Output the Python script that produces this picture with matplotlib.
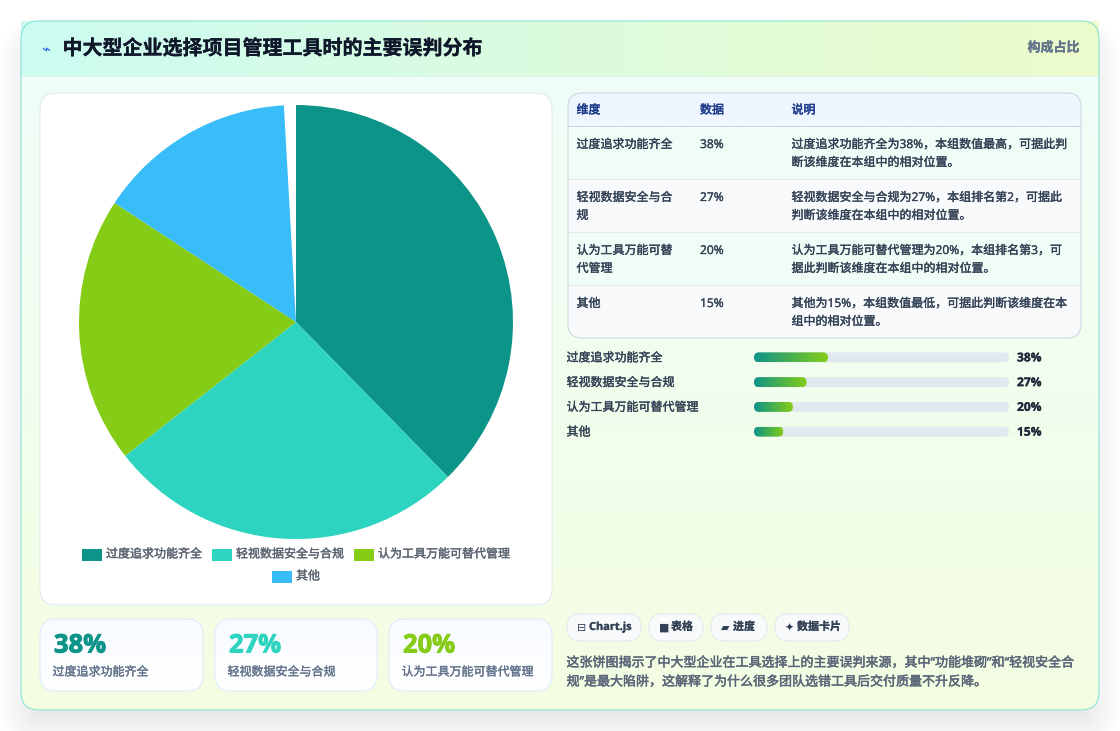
import numpy as np
import matplotlib
matplotlib.use("Agg")
import matplotlib.pyplot as plt
import matplotlib.patheffects as pe
from matplotlib.patches import FancyBboxPatch, Rectangle
from matplotlib.colors import to_rgb

plt.rcParams['font.family'] = ['Open Sans', 'Noto Sans CJK SC', 'DejaVu Sans']

# ---------- data ----------
categories = ['过度追求功能齐全', '轻视数据安全与合规', '认为工具万能可替代管理', '其他']
values = [38, 27, 20, 15]
pie_total = 100.9
bar_scale_max = 131
colors = ['#0d9488', '#2dd4bf', '#84cc16', '#38bdf8']
title = '中大型企业选择项目管理工具时的主要误判分布'
badge = '构成占比'
table_head = ['维度', '数据', '说明']
table_dims = [['过度追求功能齐全'], ['轻视数据安全与合', '规'], ['认为工具万能可替', '代管理'], ['其他']]
table_notes = [
    ['过度追求功能齐全为38%，本组数值最高，可据此判', '断该维度在本组中的相对位置。'],
    ['轻视数据安全与合规为27%，本组排名第2，可据此', '判断该维度在本组中的相对位置。'],
    ['认为工具万能可替代管理为20%，本组排名第3，可', '据此判断该维度在本组中的相对位置。'],
    ['其他为15%，本组数值最低，可据此判断该维度在本', '组中的相对位置。'],
]
chips = [('⊟', 'Chart.js'), ('■', '表格'), ('▰', '进度'), ('✦', '数据卡片')]
summary = ['这张饼图揭示了中大型企业在工具选择上的主要误判来源，其中“功能堆砌”和“轻视安全合',
           '规”是最大陷阱，这解释了为什么很多团队选错工具后交付质量不升反降。']

W, H = 1120, 731
fig = plt.figure(figsize=(W / 100, H / 100), dpi=100, facecolor='white')
ax = fig.add_axes([0, 0, 1, 1])
ax.set_axis_off()


def reset():
    ax.set_xlim(0, W)
    ax.set_ylim(H, 0)
    ax.set_aspect('auto')


reset()


def px(s):
    return s * 0.72


def rbox(x0, y0, x1, y1, r, fc='none', ec='none', lw=0.72, z=2):
    p = FancyBboxPatch((x0 + r, y0 + r), x1 - x0 - 2 * r, y1 - y0 - 2 * r,
                       boxstyle=f'round,pad={r},rounding_size={r}',
                       fc=fc, ec=ec, lw=lw, zorder=z)
    ax.add_patch(p)
    return p


def grad(x0, y0, x1, y1, c0, c1, direction='v', clip=None, z=1.5):
    c0, c1 = np.array(to_rgb(c0)), np.array(to_rgb(c1))
    t = np.linspace(0, 1, 256)
    t = t[:, None] if direction == 'v' else t[None, :]
    img = c0 * (1 - t[..., None]) + c1 * t[..., None]
    im = ax.imshow(img, extent=(x0, x1, y1, y0), origin='upper', aspect='auto',
                   zorder=z, interpolation='bilinear')
    if clip is not None:
        im.set_clip_path(clip)
    reset()
    return im


def txt(x, y, s, size, color, weight='normal', ha='left', va='center', z=6, stroke=0.0, **kw):
    t = ax.text(x, y, s, fontsize=px(size), color=color, fontweight=weight,
                ha=ha, va=va, zorder=z, **kw)
    if stroke:
        t.set_path_effects([pe.withStroke(linewidth=stroke, foreground=color)])
    return t


MED = 0.25

# ---------- shadow ----------
yy, xx = np.mgrid[0:H, 0:W] + 0.5
cx, cy, hw, hh, rr = 560, 384, 539, 344, 18
qx = np.abs(xx - cx) - (hw - rr)
qy = np.abs(yy - cy) - (hh - rr)
d = np.hypot(np.maximum(qx, 0), np.maximum(qy, 0)) + np.minimum(np.maximum(qx, qy), 0) - rr
u = np.clip(0.5 - d / 64, 0, 1)
a = 0.11 * u * u * (3 - 2 * u)
shadow = np.zeros((H, W, 4))
shadow[..., :3] = to_rgb('#0f172a')
shadow[..., 3] = a
ax.imshow(shadow, extent=(0, W, H, 0), aspect='auto', zorder=0.5)
reset()

# ---------- main card ----------
card = rbox(21, 21, 1099, 710, 18, fc='#f0fdfa', z=1)
grad(21, 21, 1099, 710, '#effdfa', '#f4fee2', 'v', clip=card, z=1.2)
grad(21, 21, 1099, 76, '#ccfbf1', '#ecfccb', 'h', z=1.6)
ax.plot([21, 1099], [76, 76], color='#e2f2ee', lw=0.72, zorder=1.7)
rbox(21, 21, 1099, 710, 18, ec='#7fe3cf', lw=0.72, z=1.8)

txt(41, 50, '⌁', 15, '#2563eb', family=['DejaVu Sans'])
txt(62.5, 49.5, title, 20, '#0f172a', 'bold', stroke=0.2)
txt(1079.5, 48, badge, 13, '#64748b', 'bold', ha='right', stroke=0.2)

# ---------- pie panel ----------
rbox(40, 93, 552, 605, 16, fc='white', ec='#e2e8f0', z=2)
cxp, cyp, rp = 296, 322, 217
ax_pie = fig.add_axes([(cxp - rp) / W, 1 - (cyp + rp) / H, 2 * rp / W, 2 * rp / H], zorder=5)
ax_pie.pie([v / pie_total for v in values], colors=colors, startangle=90, counterclock=False,
           radius=1, normalize=False, wedgeprops=dict(edgecolor='none', linewidth=0))
ax_pie.set_xlim(-1, 1)
ax_pie.set_ylim(-1, 1)
ax_pie.set_aspect('equal')

leg_rows = [[(82, 0), (212, 1), (354, 2)], [(272, 3)]]
for row, y in zip(leg_rows, (555, 577)):
    for x, i in row:
        ax.add_patch(Rectangle((x, y - 6), 19.5, 12, fc=colors[i], ec='none', zorder=3))
        txt(x + 24, y - 1, categories[i], 12, '#5b6470', stroke=MED)

# ---------- stat cards ----------
stat_x = [(40, 203), (215, 377), (389, 552)]
for (x0, x1), v, c, name in zip(stat_x, values[:3], colors[:3], categories[:3]):
    s = rbox(x0, 619, x1, 691, 16, fc='white', z=2)
    grad(x0, 619, x1, 691, '#f8fbff', '#ffffff', 'v', clip=s, z=2.1)
    rbox(x0, 619, x1, 691, 16, ec='#dbeafe', z=2.2)
    txt(x0 + 14, 645, f'{v}%', 25.5, c, 'bold', stroke=0.7)
    txt(x0 + 12.5, 672, name, 12, '#64748b', stroke=MED)

# ---------- table ----------
tb = rbox(568, 93, 1081, 338, 14, fc='#f8fafc', z=2)
grad(568, 93, 1081, 126, '#eff6ff', '#eff6ff', 'v', clip=tb, z=2.1)
row_y = [126, 179, 232, 285, 338]
row_bg = ['#f0fdf7', '#f8fafc', '#f0fdf7', '#f8fafc']
for y0, y1, c in zip(row_y[:-1], row_y[1:], row_bg):
    r = Rectangle((568, y0), 513, y1 - y0, fc=c, ec='none', zorder=2.1)
    ax.add_patch(r)
    r.set_clip_path(tb)
for i, y in enumerate(row_y[:-1]):
    ax.plot([568, 1081], [y - 0.5, y - 0.5], color='#cbd5e1' if i == 0 else '#e2e8f0', lw=0.72, zorder=2.3)
rbox(568, 93, 1081, 338, 14, ec='#cbd5e1', z=2.4)
col_x = [576.5, 700, 791.5]
for x, h in zip(col_x, table_head):
    txt(x, 110, h, 12, '#1e3a8a', stroke=MED + 0.1)
for i in range(4):
    y = row_y[i] + 18.5
    for j, line in enumerate(table_dims[i]):
        txt(col_x[0], y + j * 18, line, 12, '#334155', stroke=MED)
    txt(col_x[1], y, f'{values[i]}%', 12, '#334155', stroke=MED)
    for j, line in enumerate(table_notes[i]):
        txt(col_x[2], y + j * 18, line, 12, '#334155', stroke=MED)

# ---------- progress bars ----------
bx0, bx1, by0, by1 = 754, 1009, 345, 444
n = len(values)
ax_bar = fig.add_axes([bx0 / W, 1 - by1 / H, (bx1 - bx0) / W, (by1 - by0) / H], zorder=4)
ax_bar.set_xlim(0, bar_scale_max)
ax_bar.set_ylim(n - 0.5, -0.5)
ax_bar.set_axis_off()
ax_bar.patch.set_alpha(0)
px_x = (bx1 - bx0) / bar_scale_max
px_y = (by1 - by0) / n
bar_h = 10 / px_y


def bar_box(v, i, **kw):
    rx = 5 / px_x
    p = FancyBboxPatch((rx, i - bar_h / 2 + 5 / px_y), max(v - 2 * rx, 0.01), bar_h - 10 / px_y,
                       boxstyle=f'round,pad={rx},rounding_size={rx}',
                       mutation_aspect=(5 / px_y) / rx, **kw)
    ax_bar.add_patch(p)
    return p


c0 = np.array(to_rgb('#0d9488'))
c1 = np.array(to_rgb('#84cc16'))
tg = np.linspace(0, 1, 256)[None, :, None]
gimg = c0 * (1 - tg) + c1 * tg
for i, (v, name) in enumerate(zip(values, categories)):
    bar_box(bar_scale_max, i, fc='#e2e8f0', ec='none', zorder=1)
    clip = bar_box(v, i, fc='none', ec='none', zorder=2)
    im = ax_bar.imshow(gimg, extent=(0, v, i + bar_h / 2, i - bar_h / 2), aspect='auto', zorder=2)
    im.set_clip_path(clip)
    ax_bar.set_xlim(0, bar_scale_max)
    ax_bar.set_ylim(n - 0.5, -0.5)
    y = by0 + (i + 0.5) * px_y
    txt(566.5, y + 0.5, name, 12, '#334155', stroke=MED)
    txt(1017, y + 0.5, f'{v}%', 12, '#1e293b', 'bold', stroke=0.2)

# ---------- chips ----------
chip_x = [(567, 641), (649, 703), (711, 767), (775, 849)]
for (x0, x1), (icon, label) in zip(chip_x, chips):
    rbox(x0, 614, x1, 641, 13, fc='#f8fafc', ec='#e2e8f0', z=2)
    txt(x0 + 10, 628, icon, 11, '#334155', family=['DejaVu Sans'])
    txt(x0 + 22, 627.5, label, 11, '#334155', 'bold', stroke=0.15)

for i, line in enumerate(summary):
    txt(566.5, 663 + i * 19, line, 13, '#5b6779', stroke=MED + 0.1)

fig.savefig('out.png', dpi=100, facecolor='white')
